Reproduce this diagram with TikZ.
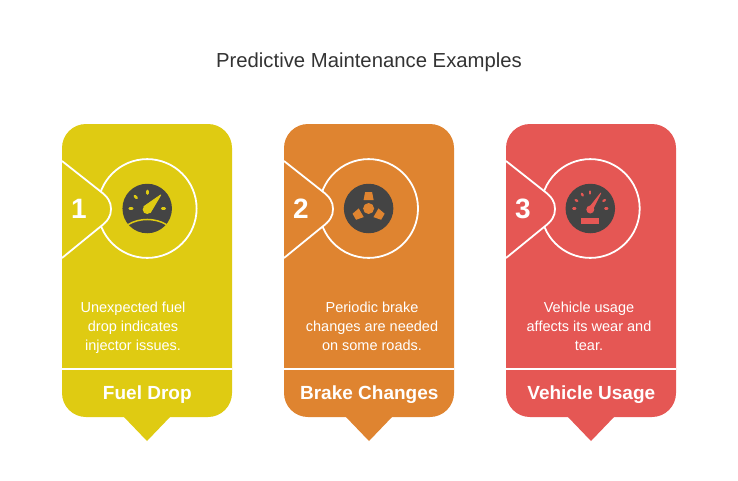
\documentclass[tikz,border=0pt]{standalone}
\usepackage{fontspec}
\setmainfont{Liberation Sans}
\definecolor{myyellow}{RGB}{223,203,18}
\definecolor{myorange}{RGB}{223,132,48}
\definecolor{myred}{RGB}{229,87,84}
\definecolor{mydark}{RGB}{68,68,68}
\definecolor{mytitle}{RGB}{51,51,51}
\usetikzlibrary{positioning,calc}

\begin{document}
\begin{tikzpicture}[x=1pt,y=-1pt,
    every node/.style={inner sep=0pt},
    ringnode/.style={draw=white,circle,line width=1.8pt,minimum size=98.8pt},
    discnode/.style={circle,fill=mydark,minimum size=49.5pt},
    numnode/.style={text=white,font=\fontsize{28}{28}\selectfont\bfseries},
    bodynode/.style={text=white,align=center,anchor=base,font=\fontsize{14.5}{18.6}\selectfont},
    headnode/.style={text=white,font=\fontsize{19}{24}\selectfont\bfseries},
    tick/.style={line width=2.6pt,line cap=round}
    ]
    \useasboundingbox (0,0) rectangle (738,480);

    % the title
    \node[text=mytitle,font=\fontsize{20.3}{24}\selectfont] (title) at (369,62) {Predictive Maintenance Examples};

    % the cards
    \foreach \i/\xc/\rx/\tx/\mycol/\myhead/\mybody in {
        1/62/85.2/71/myyellow/Fuel Drop/{Unexpected fuel\\drop indicates\\injector issues.},
        2/284/84.6/88/myorange/Brake Changes/{Periodic brake\\changes are needed\\on some roads.},
        3/506/84.3/83/myred/Vehicle Usage/{Vehicle usage\\affects its wear and\\tear.}}{
    \begin{scope}[xshift=\xc pt]
    \fill[\mycol,rounded corners=24pt] (0,124) rectangle (170,417);
    \fill[\mycol] (61,416) -- (85,441) -- (109,416) -- cycle;
    \node[ringnode] (ring\i) at (\rx,208.5) {};
    % the arrow with its number
    \fill[\mycol] (0,161) -- (38,191) .. controls (46,197) and (49,202) .. (49,209) .. controls (49,216) and (46,221) .. (38,227) -- (0,258) -- cycle;
    \draw[white,line width=1.8pt] (0,161) -- (38,191) .. controls (46,197) and (49,202) .. (49,209) .. controls (49,216) and (46,221) .. (38,227) -- (0,258);
    \node[numnode] (num\i) at (17,209) {\i};
    \node[discnode] (disc\i) at (ring\i.center) {};
    \node[bodynode] (body\i) at (\tx,350) {\mybody};
    \draw[white,line width=2pt] (0,369) -- (170,369);
    \node[headnode] (head\i) at (85.3,394.5) {\myhead};
    \end{scope}
    }

    % the gauge of card 1
    \begin{scope}[shift={(disc1.center)},myyellow]
    \foreach \a in {0,-135,-90,180}
    \draw[tick] (\a:15) -- (\a:17.5);
    \fill (0,1) circle (4.5pt);
    \draw[line width=1pt,line join=round,fill] (13.5,-13.5) -- (3.1,4) -- (-3.1,-2) -- cycle;
    \draw[line width=1.5pt] (-19,16) .. controls (-8,9.3) and (8,9.3) .. (19,16);
    \end{scope}

    % the rotor of card 2
    \begin{scope}[shift={(disc2.center)},myorange]
    \fill (0,0) circle (5.5pt);
    \foreach \a in {0,120,240}
    \fill[rotate=\a] (-3.5,-16.5) -- (3.5,-16.5) -- (5,-8.5) -- (-5,-8.5) -- cycle;
    \end{scope}

    % the speedometer of card 3
    \begin{scope}[shift={(disc3.center)},myred]
    \foreach \a in {0,-30,-90,-120,-150,180}
    \draw[tick,line width=2.3pt] (\a:15) -- (\a:17);
    \fill (0,1) circle (4pt);
    \draw[line width=.8pt,line join=round,fill] (10.5,-15.5) -- (1.7,2.1) -- (-1.7,-0.1) -- cycle;
    \fill (-9,9.5) rectangle (9,15.5);
    \end{scope}
\end{tikzpicture}
\end{document}
